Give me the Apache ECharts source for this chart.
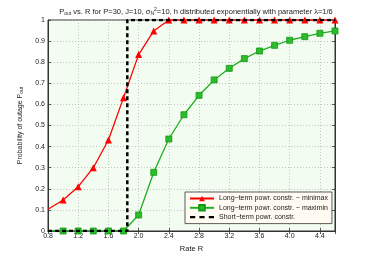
<!DOCTYPE html>
<html><head><meta charset="utf-8">
<script src="https://cdn.jsdelivr.net/npm/echarts@6/dist/echarts.min.js"></script>
<style>html,body{margin:0;padding:0;background:#fff}#c{width:371px;height:260px}</style>
</head><body><div id="c"></div>
<script>
var rates = [0.8,1.0,1.2,1.4,1.6,1.8,2.0,2.2,2.4,2.6,2.8,3.0,3.2,3.4,3.6,3.8,4.0,4.2,4.4,4.6];
var minimax = [0.103,0.147,0.21,0.30,0.431,0.632,0.836,0.948,1,1,1,1,1,1,1,1,1,1,1,1];
var maximin = [0,0,0,0,0,0,0.076,0.278,0.436,0.551,0.643,0.716,0.771,0.817,0.853,0.88,0.904,0.921,0.937,0.948];
var shortTermR = [0.8,1.85,1.85,4.6];
var shortTermP = [0,0,1,1];
var xTicks = [0.8,1.2,1.6,2.0,2.4,2.8,3.2,3.6,4.0,4.4];
var names = ['Long\u2212term powr. constr. \u2212 minimax','Long\u2212term powr. constr. \u2212 maximin','Short\u2212term powr. constr.'];

function pts(xs, ys, skipFirst){
  return xs.map(function(x,i){
    var p = {value:[x, ys[i]]};
    if (skipFirst && i===0) p.symbol = 'none';
    return p;
  });
}
var font = 'Liberation Sans, Arial, sans-serif';
var chart = echarts.init(document.getElementById('c'), null, {renderer:'canvas'});
var axCommon = {
  axisLine:{show:true,lineStyle:{color:'#333',width:1}},
  axisTick:{show:true,inside:true,length:3,lineStyle:{color:'#333',width:0.8}},
};
chart.setOption({
  animation:false,
  backgroundColor:'#fff',
  title:{
    text:'P{s|out} vs. R for P=30, J=10, \u03c3{s|N}{p|2}=10, h distributed exponentially with parameter \u03bb=1/6',
    left:191, top:2, textAlign:'center',
    textStyle:{fontSize:7.5,fontWeight:'normal',color:'#222',fontFamily:font,
      rich:{s:{fontSize:5,verticalAlign:'bottom',padding:[4,0,0,0],color:'#222'},p:{fontSize:5,verticalAlign:'top',padding:[0,0,3,0],color:'#222'}}}
  },
  grid:{left:48,right:36,top:20,bottom:29,show:true,backgroundColor:'#f3fcf1',borderColor:'#333',borderWidth:1},
  legend:{
    orient:'vertical', left:185, top:192, width:138,
    backgroundColor:'#fffaf2', borderColor:'#333', borderWidth:0.8,
    padding:[3,4,3,4], itemGap:2, itemWidth:24, itemHeight:7,
    textStyle:{fontSize:7,color:'#222',fontFamily:font},
    data:[names[0],names[1],{name:names[2],icon:'path://M0,0H5V2H0Z M9,0H14V2H9Z M18,0H23V2H18Z',itemStyle:{color:'#000'}}]
  },
  xAxis:[
    Object.assign({type:'value',min:0.8,max:4.6,interval:0.4,
      name:'Rate R',nameLocation:'middle',nameGap:14,nameTextStyle:{fontSize:7.5,color:'#222',fontFamily:font},
      axisLabel:{fontSize:7,color:'#222',fontFamily:font,margin:2,showMaxLabel:false,
        formatter:function(v){return xTicks.indexOf(Math.round(v*10)/10)>=0 ? v.toFixed(1) : '';}},
      splitLine:{show:true,lineStyle:{color:'#b8b8b8',type:[1,2],width:0.8}}},axCommon),
    Object.assign({type:'value',position:'top',min:0.8,max:4.6,interval:0.4,
      axisLabel:{show:false},splitLine:{show:false}},axCommon)
  ],
  yAxis:[
    Object.assign({type:'value',min:0,max:1,interval:0.1,
      name:'Probability of outage P{s|out}',nameLocation:'middle',nameGap:19,
      nameTextStyle:{fontSize:7,color:'#222',fontFamily:font,rich:{s:{fontSize:5,verticalAlign:'bottom',padding:[4,0,0,0],color:'#222'}}},
      axisLabel:{fontSize:7,color:'#222',fontFamily:font,margin:3,
        formatter:function(v){return String(Math.round(v*10)/10);}},
      splitLine:{show:true,lineStyle:{color:'#b8b8b8',type:[1,2],width:0.8}}},axCommon),
    Object.assign({type:'value',position:'right',min:0,max:1,interval:0.1,
      axisLabel:{show:false},splitLine:{show:false}},axCommon)
  ],
  series:[
    {name:names[0],type:'line',data:pts(rates,minimax,true),symbol:'triangle',symbolSize:7,showAllSymbol:true,
      lineStyle:{color:'#ff0000',width:1.3},itemStyle:{color:'#ff0000'},z:3},
    {name:names[1],type:'line',data:pts(rates,maximin,true),symbol:'rect',symbolSize:6,showAllSymbol:true,
      lineStyle:{color:'#1fae1f',width:1.3},itemStyle:{color:'#2dbb2d',borderColor:'#129a12',borderWidth:0.8},z:3},
    {name:names[2],type:'line',data:shortTermR.map(function(x,i){return [x,shortTermP[i]];}),
      symbol:'none',lineStyle:{color:'#000',width:2.5,type:[4,3]},itemStyle:{color:'#000'},z:4}
  ]
});
</script></body></html>
